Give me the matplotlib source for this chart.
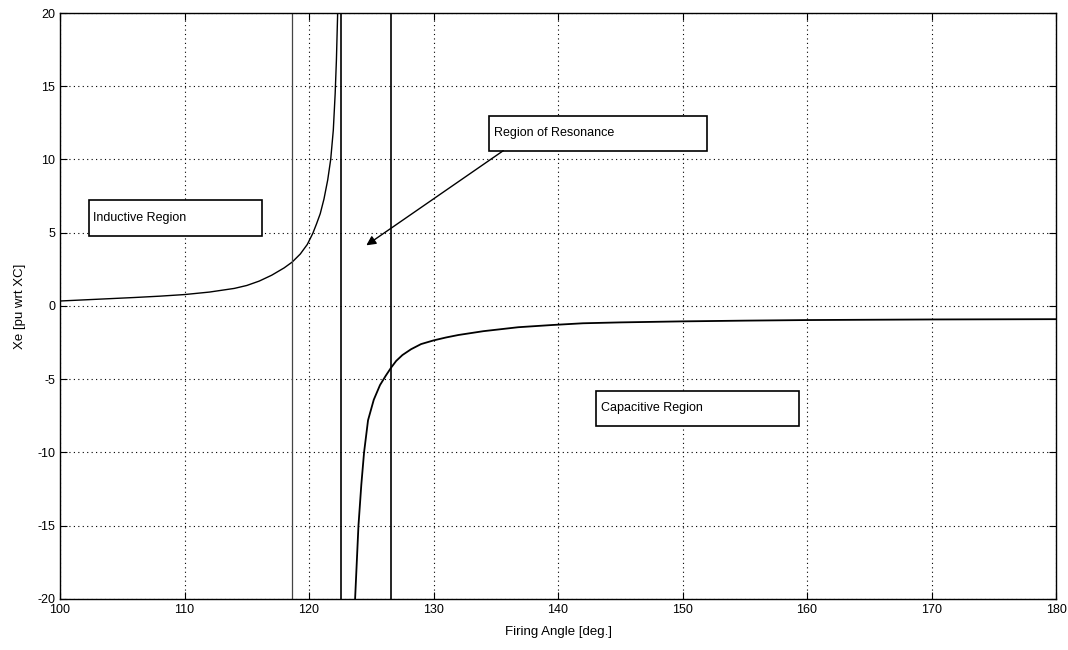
import matplotlib
matplotlib.use('Agg')
import matplotlib.pyplot as plt
from matplotlib.patches import Rectangle

plt.rcParams.update({
    'font.family': ['Liberation Sans', 'DejaVu Sans'],
    'font.size': 9,
    'axes.unicode_minus': False,
    'xtick.direction': 'in',
    'ytick.direction': 'in',
    'xtick.top': True,
    'ytick.right': True,
})

# --- datos ---
ang_ind = [100, 102, 104, 106, 108, 110, 112, 114, 115, 116, 117, 118,
           118.65, 119.3, 119.86, 120.3, 120.6, 120.9, 121.2, 121.5,
           121.74, 121.95, 122.1, 122.2, 122.3]
xe_ind = [0.34, 0.42, 0.5, 0.58, 0.67, 0.78, 0.95, 1.2, 1.4, 1.7, 2.1, 2.6,
          3.0, 3.55, 4.2, 4.95, 5.6, 6.3, 7.3, 8.6, 10.0, 12.0, 14.5, 16.8,
          20.0]

ang_cap = [123.7, 123.97, 124.2, 124.42, 124.74, 125.2, 125.7, 126.17,
           126.6, 127.0, 127.5, 128.2, 129, 130, 131, 132, 134, 136.8, 139.5,
           142, 145, 150, 155, 160, 165, 170, 175, 180]
xe_cap = [-20, -15, -12.2, -10, -7.8, -6.4, -5.4, -4.75, -4.2, -3.75, -3.35,
          -2.95, -2.6, -2.35, -2.15, -1.98, -1.72, -1.45, -1.3, -1.18, -1.12,
          -1.05, -1.0, -0.96, -0.94, -0.92, -0.91, -0.9]

lineas_v = [118.65, 122.6, 126.6]

etiquetas = ['Inductive Region', 'Region of Resonance', 'Capacitive Region']

fig = plt.figure(figsize=(10.68, 6.5), dpi=100)
ax = fig.add_axes([0.0562, 0.0785, 0.9326, 0.9015])

ax.plot(ang_ind, xe_ind, color='black', linewidth=1.0)
ax.plot(ang_cap, xe_cap, color='black', linewidth=1.3)

ax.axvline(lineas_v[0], color='#444444', linewidth=0.9)
ax.axvline(lineas_v[1], color='black', linewidth=1.2)
ax.axvline(lineas_v[2], color='black', linewidth=1.2)

ax.set_xlim(100, 180)
ax.set_ylim(-20, 20)
ax.set_xticks(range(100, 181, 10))
ax.set_yticks(range(-20, 21, 5))
ax.grid(True, color='black', linestyle=(0, (1, 3)), linewidth=0.8)
ax.tick_params(length=5, width=0.8, labelsize=9)
for s in ax.spines.values():
    s.set_linewidth(1.0)

ax.set_xlabel('Firing Angle [deg.]', fontsize=9.5, labelpad=7)
ax.set_ylabel('Xe [pu wrt XC]', fontsize=9.5, labelpad=8)

# cajas de texto
cajas = [(102.3, 4.78, 13.9, 2.47, 102.65, 6.0),
         (134.46, 10.58, 17.5, 2.4, 134.86, 11.8),
         (143.05, -8.18, 16.3, 2.39, 143.45, -6.98)]
for (x0, y0, w, h, tx, ty), txt in zip(cajas, etiquetas):
    ax.add_patch(Rectangle((x0, y0), w, h, facecolor='white',
                           edgecolor='black', linewidth=1.2, zorder=4))
    ax.text(tx, ty, txt, fontsize=9, va='center', ha='left', zorder=5)

ax.annotate('', xy=(124.6, 4.14), xytext=(135.6, 10.6),
            arrowprops=dict(arrowstyle='-|>', color='black', lw=1.0,
                            mutation_scale=14, shrinkA=0, shrinkB=0),
            zorder=5)

fig.savefig('out.png', dpi=100)
